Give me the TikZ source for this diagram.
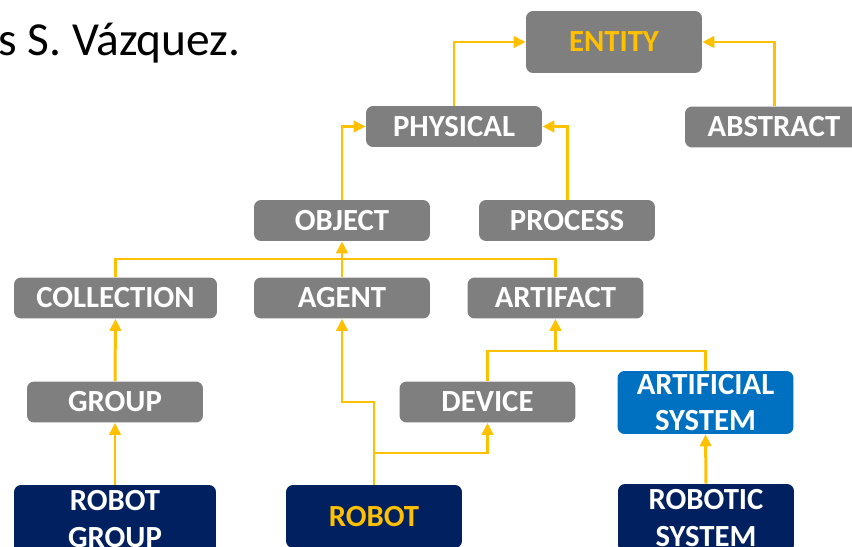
\documentclass[tikz,border=0pt]{standalone}
\usepackage{fontspec}
\setmainfont{Carlito}
\usepackage{xcolor}
\usepackage{tikz}
\usetikzlibrary{calc,arrows.meta}

\definecolor{boxgray}{HTML}{7F7F7F}
\definecolor{linkyellow}{HTML}{FFC000}
\definecolor{sysblue}{HTML}{0070C0}
\definecolor{robnavy}{HTML}{002060}

\begin{document}
\begin{tikzpicture}[x=0.02cm,y=-0.02cm,
    box/.style={rectangle,rounded corners=4pt,fill=boxgray,text=white,
      inner sep=0pt,minimum width=3.52cm,minimum height=0.82cm,align=center,
      font=\bfseries\fontsize{17.5}{21}\selectfont},
    tallbox/.style={box,minimum height=1.26cm},
    link/.style={draw=linkyellow,line width=1.7pt},
    arr/.style={link,-{Triangle[length=6.8pt,width=6.4pt]}}]
    \useasboundingbox (0,0) rectangle (852,547);

    \node[anchor=base west,inner sep=0pt,font=\fontsize{27}{31}\selectfont] (credit) at (-2,56) {s S. Vázquez.};

    \node[box,text=linkyellow,minimum height=1.24cm] (entity) at (614,42) {ENTITY};
    \node[box] (physical) at (454,126.5) {PHYSICAL};
    \node[box,minimum width=3.56cm] (abstract) at (774,127) {ABSTRACT};
    \node[box] (object) at (342,220.5) {OBJECT};
    \node[box] (process) at (567,220.5) {PROCESS};
    \node[box,minimum width=4.06cm] (collection) at (115.5,298) {COLLECTION};
    \node[box] (agent) at (342,298) {AGENT};
    \node[box] (artifact) at (555.5,298) {ARTIFACT};
    \node[box] (group) at (115,402) {GROUP};
    \node[box] (device) at (487.5,402) {DEVICE};
    \node[tallbox,fill=sysblue] (artsys) at (705.5,402.5) {ARTIFICIAL\\SYSTEM};
    \node[tallbox,fill=robnavy,minimum width=4.04cm,minimum height=1.36cm] (robotgroup) at (115,519) {ROBOT\\GROUP};
    \node[tallbox,fill=robnavy,text=linkyellow] (robot) at (374,516.5) {ROBOT};
    \node[tallbox,fill=robnavy,minimum height=1.36cm] (robsys) at (706,518) {ROBOTIC\\SYSTEM};

    \coordinate (bus1) at (342,259);
    \coordinate (bus2) at (555.5,351);
    \coordinate (split) at (374,453);
    \coordinate (kink) at (342,402);

    \draw[arr] (physical.north) |- (entity.west);
    \draw[arr] (abstract.north) |- (entity.east);
    \draw[arr] (object.north) |- (physical.west);
    \draw[arr] (process.north) |- (physical.east);

    \draw[link] (collection.north) |- (bus1) -| (artifact.north);
    \draw[link] (agent.north) -- (bus1);
    \draw[arr] (bus1) -- (object.south);

    \draw[arr] (group.north) -- (collection.south);
    \draw[arr] (robotgroup.north) -- (group.south);

    \draw[link] (robot.north) -- (split);
    \draw[arr] (split) -| (device.south);
    \draw[arr] (split) |- (kink) -- (agent.south);

    \draw[link] (device.north) |- (bus2) -| (artsys.north);
    \draw[arr] (bus2) -- (artifact.south);
    \draw[arr] (robsys.north) -- (artsys.south);
\end{tikzpicture}
\end{document}
